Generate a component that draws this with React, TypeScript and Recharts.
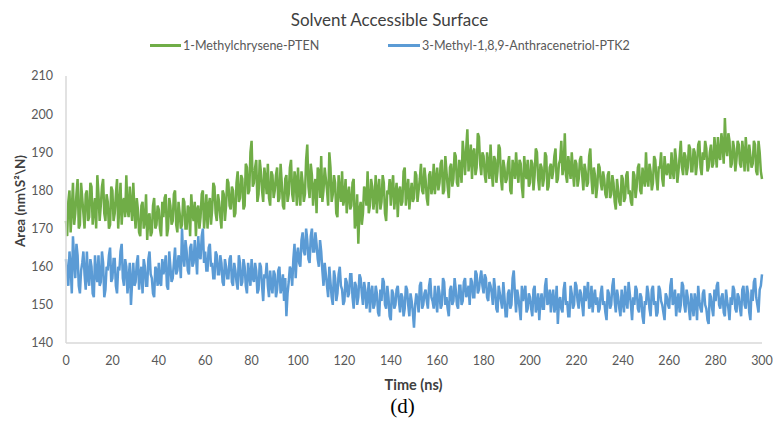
import React from "react";
import { LineChart, Line, XAxis, YAxis, Legend } from "recharts";

const seriesNames = ["1-Methylchrysene-PTEN", "3-Methyl-1,8,9-Anthracenetriol-PTK2"];
const seriesColors = ["#70AD47", "#5B9BD5"];
const xTicks = [0, 20, 40, 60, 80, 100, 120, 140, 160, 180, 200, 220, 240, 260, 280, 300];
const yTicks = [140, 150, 160, 170, 180, 190, 200, 210];

// values at whole ns (t = 0 .. 300)
const greenValues = [
  172, 177, 169, 182, 174, 183, 171, 178, 170, 180,
  173, 181, 175, 170, 179, 176, 183, 172, 177, 171,
  180, 174, 183, 176, 171, 178, 184, 173, 176, 182,
  170, 175, 168, 177, 172, 167, 174, 169, 178, 171,
  175, 168, 173, 179, 170, 176, 172, 180, 169, 174,
  171, 177, 170, 175, 179, 172, 168, 176, 173, 180,
  174, 170, 178, 175, 181, 172, 177, 170, 179, 176,
  182, 175, 180, 174, 185, 178, 183, 176, 186, 180,
  193, 182, 188, 179, 185, 177, 183, 187, 176, 184,
  180, 186, 178, 182, 175, 184, 179, 188, 177, 183,
  186, 176, 182, 179, 192, 178, 184, 181, 174, 185,
  189, 180, 183, 176, 186, 179, 182, 173, 180, 185,
  178, 174, 181, 176, 183, 172, 166, 177, 174, 180,
  185, 176, 181, 178, 174, 183, 177, 182, 172, 179,
  176, 184, 179, 173, 181, 177, 186, 180, 175, 182,
  178, 184, 180, 187, 179, 183, 176, 185, 181, 179,
  186, 182, 188, 180, 185, 178, 187, 183, 189, 181,
  186, 193, 184, 196, 188, 183, 191, 186, 194, 184,
  189, 182, 187, 192, 181, 188, 185, 191, 180, 186,
  183, 189, 179, 186, 190, 182, 187, 178, 185, 188,
  182, 187, 184, 190, 180, 186, 183, 189, 181, 187,
  185, 191, 183, 188, 184, 195, 182, 186, 190, 181,
  187, 183, 189, 180, 185, 182, 191, 179, 184, 181,
  186, 180, 183, 178, 185, 179, 182, 175, 180, 176,
  183, 178, 185, 180, 176, 184, 181, 187, 179, 183,
  190, 181, 185, 182, 188, 180, 186, 183, 189, 184,
  186, 190, 183, 188, 185, 193, 184, 189, 186, 191,
  185, 190, 187, 193, 184, 188, 191, 186, 192, 187,
  190, 194, 188, 192, 199, 189, 193, 187, 191, 188,
  192, 186, 190, 194, 185, 189, 187, 192, 184, 190,
  183,
];

// values at half ns (t = 0.5 .. 299.5)
const greenHalfValues = [
  168, 180, 175, 171, 179, 170, 182, 174, 179, 172,
  182, 171, 178, 184, 172, 181, 174, 179, 170, 181,
  172, 179, 170, 182, 177, 173, 175, 181, 172, 175,
  178, 169, 176, 170, 179, 173, 168, 176, 170, 176,
  170, 177, 178, 168, 178, 171, 179, 171, 177, 170,
  178, 170, 176, 168, 174, 177, 175, 170, 179, 170,
  179, 176, 171, 182, 174, 179, 173, 180, 172, 183,
  176, 181, 173, 182, 177, 184, 175, 187, 179, 190,
  181, 186, 177, 188, 180, 186, 179, 178, 185, 178,
  184, 177, 187, 176, 183, 177, 186, 179, 185, 176,
  180, 185, 177, 188, 181, 187, 176, 183, 186, 178,
  177, 186, 180, 190, 177, 184, 174, 184, 177, 176,
  183, 179, 175, 182, 170, 179, 175, 171, 181, 176,
  174, 183, 175, 184, 180, 175, 184, 174, 180, 183,
  181, 175, 182, 180, 176, 185, 176, 183, 179, 177,
  185, 177, 183, 180, 186, 178, 184, 179, 187, 183,
  180, 187, 179, 189, 181, 186, 181, 190, 182, 188,
  182, 189, 191, 185, 192, 190, 184, 195, 187, 190,
  184, 190, 183, 185, 189, 182, 192, 183, 188, 182,
  187, 180, 188, 183, 185, 188, 181, 189, 183, 181,
  188, 180, 191, 183, 187, 181, 190, 180, 186, 183,
  189, 182, 187, 193, 186, 184, 189, 183, 185, 188,
  181, 188, 184, 187, 181, 189, 183, 186, 178, 187,
  182, 185, 179, 184, 178, 184, 177, 183, 177, 184,
  177, 184, 179, 177, 185, 178, 186, 180, 186, 181,
  183, 187, 180, 189, 183, 186, 190, 181, 185, 187,
  183, 185, 191, 182, 189, 186, 190, 184, 192, 185,
  191, 184, 192, 186, 190, 193, 185, 190, 186, 194,
  186, 189, 195, 187, 191, 195, 186, 193, 185, 193,
  187, 193, 185, 189, 192, 186, 193, 185, 193, 185,
];

const blueValues = [
  162, 155, 160, 168, 157, 163, 153, 161, 158, 164,
  155, 160, 152, 158, 163, 156, 161, 154, 159, 165,
  157, 162, 153, 159, 166, 155, 160, 157, 150, 161,
  156, 163, 158, 153, 160, 155, 164, 157, 152, 159,
  161, 155, 158, 163, 154, 160, 157, 165, 159, 162,
  170, 160, 164, 158, 166, 161, 163, 168, 162, 170,
  164, 159, 166, 161, 157, 163, 158, 161, 155, 160,
  157, 163, 155, 159, 154, 161, 156, 160, 153, 158,
  162, 156, 159, 154, 160, 151, 157, 155, 159, 153,
  158, 154, 160, 155, 151, 147, 156, 159, 162, 157,
  165, 160, 169, 163, 167, 161, 170, 164, 166, 160,
  164, 155, 158, 152, 156, 150, 157, 153, 160, 154,
  151, 156, 153, 158, 149, 155, 152, 157, 150, 154,
  152, 148, 155, 150, 153, 147, 151, 156, 149, 152,
  146, 153, 150, 155, 148, 152, 149, 154, 147, 151,
  144, 153, 148, 156, 150, 154, 149, 157, 151, 155,
  148, 153, 150, 156, 152, 147, 155, 151, 154, 149,
  155, 151, 157, 153, 150, 156, 152, 158, 154, 159,
  153, 157, 151, 155, 150, 154, 148, 153, 149, 152,
  147, 154, 150, 159, 148, 152, 146, 151, 155, 149,
  152, 147, 155, 150, 146, 153, 149, 157, 151, 148,
  154, 150, 145, 152, 148, 156, 151, 147, 153, 150,
  155, 149, 153, 147, 151, 156, 150, 148, 154, 152,
  149, 155, 151, 146, 153, 150, 157, 148, 152, 147,
  151, 155, 149, 153, 146, 150, 154, 148, 152, 145,
  150, 153, 147, 155, 151, 148, 154, 150, 146, 152,
  149, 157, 151, 147, 153, 150, 155, 148, 152, 146,
  150, 153, 146, 151, 148, 154, 149, 145, 152, 147,
  151, 156, 149, 153, 147, 151, 146, 150, 154, 148,
  152, 147, 155, 149, 153, 146, 151, 157, 150, 154,
  158,
];

const blueHalfValues = [
  158, 164, 153, 162, 166, 155, 159, 164, 154, 157,
  162, 153, 163, 156, 155, 164, 152, 160, 163, 156,
  162, 155, 160, 164, 157, 162, 153, 161, 156, 155,
  161, 154, 160, 162, 155, 162, 158, 153, 160, 155,
  156, 162, 160, 155, 164, 156, 161, 158, 163, 157,
  163, 167, 159, 165, 160, 167, 158, 163, 168, 161,
  159, 165, 160, 157, 164, 158, 163, 156, 162, 157,
  162, 156, 161, 156, 163, 155, 162, 155, 161, 155,
  157, 161, 153, 161, 155, 158, 161, 152, 155, 159,
  152, 159, 153, 158, 157, 153, 160, 155, 166, 163,
  161, 167, 164, 170, 162, 168, 164, 169, 162, 167,
  159, 161, 155, 160, 152, 159, 151, 158, 155, 150,
  157, 152, 158, 152, 156, 150, 158, 153, 156, 149,
  156, 153, 149, 155, 148, 154, 157, 150, 155, 147,
  154, 149, 154, 151, 153, 147, 155, 150, 153, 148,
  150, 151, 155, 149, 153, 151, 155, 152, 149, 151,
  155, 149, 157, 150, 149, 154, 150, 157, 150, 155,
  150, 156, 152, 155, 157, 152, 159, 153, 157, 155,
  158, 152, 156, 153, 157, 149, 155, 151, 156, 147,
  153, 149, 157, 153, 154, 149, 155, 153, 148, 153,
  149, 154, 148, 153, 151, 149, 155, 150, 154, 152,
  148, 155, 151, 149, 154, 150, 147, 155, 149, 156,
  151, 154, 150, 155, 153, 149, 155, 152, 150, 148,
  153, 150, 148, 154, 149, 155, 151, 154, 149, 154,
  148, 151, 156, 150, 152, 155, 149, 153, 147, 151,
  155, 149, 154, 150, 147, 155, 151, 148, 153, 150,
  155, 150, 154, 151, 148, 156, 150, 154, 149, 153,
  147, 151, 155, 149, 153, 150, 146, 153, 149, 154,
  155, 150, 152, 148, 154, 149, 152, 155, 149, 153,
  149, 154, 150, 155, 148, 154, 156, 152, 148, 155,
];

const data: { t: number; green: number; blue: number }[] = [];
greenValues.forEach((g, i) => {
  data.push({ t: i, green: g, blue: blueValues[i] });
  if (i < greenHalfValues.length) {
    data.push({ t: i + 0.5, green: greenHalfValues[i], blue: blueHalfValues[i] });
  }
});

const FONT = "Lato, 'Open Sans', sans-serif";

const LegendContent = () => (
  <div style={{ position: "relative", height: 16, fontFamily: FONT, fontSize: 12.5, color: "#595959" }}>
    {[{ x: 150, w: 31 }, { x: 388, w: 32 }].map((p, i) => (
      <div key={i} style={{ position: "absolute", left: p.x, top: 0, display: "flex", alignItems: "center", whiteSpace: "nowrap" }}>
        <span style={{ display: "inline-block", width: p.w, height: 3, background: seriesColors[i], marginRight: 2 }} />
        <span>{seriesNames[i]}</span>
      </div>
    ))}
  </div>
);

export default function App() {
  return (
    <div style={{ position: "absolute", left: 0, top: 0, width: 775, height: 426, background: "#fff", fontFamily: FONT }}>
      <div style={{ position: "absolute", left: 0, width: 775, top: 9, textAlign: "center", paddingLeft: 4, boxSizing: "border-box", fontSize: 17, color: "#404040" }}>
        Solvent Accessible Surface
      </div>
      <LineChart width={775} height={426} data={data} margin={{ top: 60, right: 13, bottom: 0, left: 0 }}>
        <Legend
          verticalAlign="top"
          content={<LegendContent />}
          wrapperStyle={{ position: "absolute", top: 38, left: 0, width: 775, height: 16 }}
        />
        <XAxis
          dataKey="t"
          type="number"
          domain={[0, 300]}
          ticks={xTicks}
          interval={0}
          height={83}
          tickLine={false}
          tickSize={0}
          tickMargin={13}
          axisLine={{ stroke: "#D9D9D9", strokeWidth: 1.5 }}
          tick={{ fill: "#595959", fontSize: 12.5, fontFamily: FONT }}
        />
        <YAxis
          type="number"
          domain={[140, 210]}
          ticks={yTicks}
          interval={0}
          width={66}
          tickLine={false}
          tickSize={0}
          tickMargin={13}
          axisLine={{ stroke: "#D9D9D9", strokeWidth: 1.5 }}
          tick={{ fill: "#595959", fontSize: 12.5, fontFamily: FONT }}
        />
        <Line dataKey="green" name={seriesNames[0]} stroke={seriesColors[0]} strokeWidth={2.5} dot={false} isAnimationActive={false} />
        <Line dataKey="blue" name={seriesNames[1]} stroke={seriesColors[1]} strokeWidth={2.5} dot={false} isAnimationActive={false} />
      </LineChart>
      <div style={{ position: "absolute", left: 0, width: 775, top: 376, textAlign: "center", paddingLeft: 52, boxSizing: "border-box", fontSize: 14.5, fontWeight: 700, color: "#404040" }}>
        Time (ns)
      </div>
      <div style={{ position: "absolute", left: 20, top: 201, transform: "translate(-50%, -50%) rotate(-90deg)", whiteSpace: "nowrap", fontSize: 13.5, fontWeight: 700, color: "#404040" }}>
        Area (nm\S²\N)
      </div>
      <div style={{ position: "absolute", left: 0, width: 775, top: 394, textAlign: "center", paddingLeft: 30, boxSizing: "border-box", fontSize: 21, fontFamily: "'Liberation Serif', 'DejaVu Serif', serif", color: "#000" }}>
        (d)
      </div>
    </div>
  );
}
